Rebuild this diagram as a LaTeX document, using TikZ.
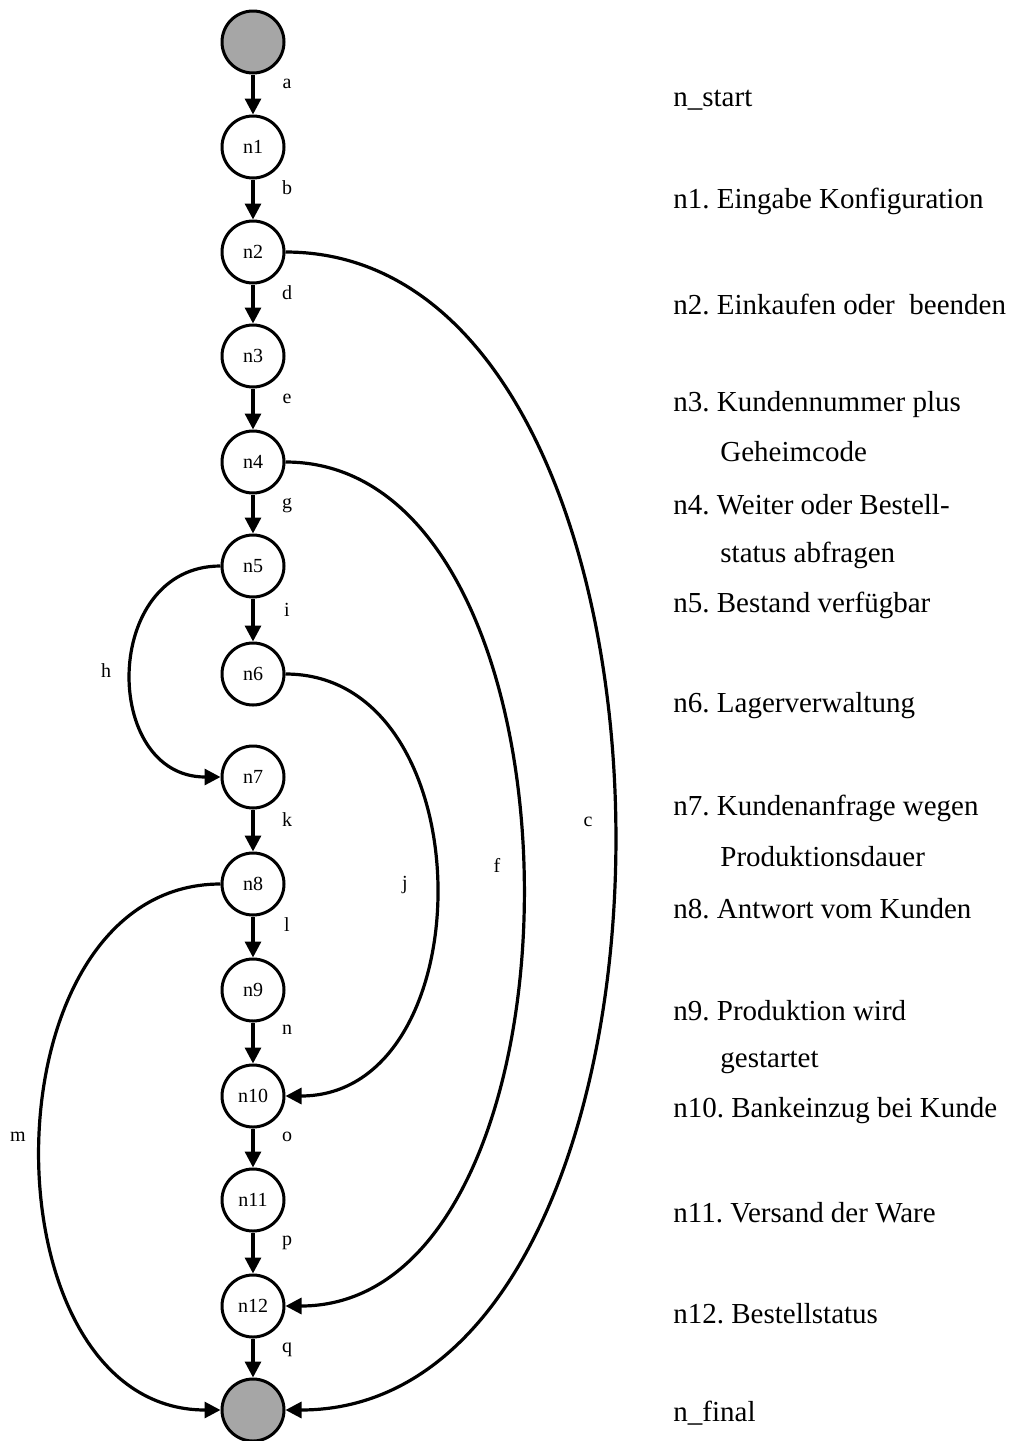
\documentclass[tikz,border=0pt]{standalone}
\usepackage{fontspec}
\setmainfont{Liberation Serif}
\usetikzlibrary{arrows.meta, positioning}
\definecolor{termgray}{RGB}{166,166,166}
\tikzset{>={Triangle[length=8pt,width=8pt]}}
\frenchspacing

\begin{document}
\begin{tikzpicture}[x=0.5pt,y=-0.5pt,
		state/.style={draw,circle,line width=1.5pt,minimum size=31pt,inner sep=0pt,font=\fontsize{10}{11}\selectfont},
		term/.style={state,fill=termgray},
		edge/.style={->,line width=1.6pt},
		lbl/.style={font=\fontsize{10}{11}\selectfont,inner sep=0pt},
		desc/.style={anchor=west,inner sep=0pt,font=\fontsize{14.5}{16}\selectfont}]
		\useasboundingbox (0,0) rectangle (1018,1441);
		
		\node[term] (ns) at (253,42) {};
		\foreach \i/\y in {1/147,2/252,3/356,4/462,5/566,6/674,7/777,8/884,9/990,10/1096,11/1200,12/1306}
			\node[state] (n\i) at (253,\y) {n\i};
		\node[term] (nf) at (253,1410) {};
		
		\draw[edge](ns)  -- (n1);
		\draw[edge](n1)  -- (n2);
		\draw[edge](n2)  -- (n3);
		\draw[edge](n3)  -- (n4);
		\draw[edge](n4)  -- (n5);
		\draw[edge](n5)  -- (n6);
		\draw[edge](n7)  -- (n8);
		\draw[edge](n8)  -- (n9);
		\draw[edge](n9)  -- (n10);
		\draw[edge](n10) -- (n11);
		\draw[edge](n11) -- (n12);
		\draw[edge](n12) -- (nf);
		\draw[edge](n2)  to [out=0,in=0,looseness=0.97] (nf);
		\draw[edge](n4)  to [out=0,in=0,looseness=0.96] (n12);
		\draw[edge](n6)  to [out=0,in=0,looseness=1.22] (n10);
		\draw[edge](n5)  to [out=180,in=180,looseness=1.45] (n7);
		\draw[edge](n8)  to [out=180,in=180,looseness=1.17] (nf);
		
		\node[lbl] (la) at (287,84) {a};
		\node[lbl] (lb) at (287,188) {b};
		\node[lbl] (lc) at (588,822) {c};
		\node[lbl] (ld) at (287,293) {d};
		\node[lbl] (le) at (287,399) {e};
		\node[lbl] (lf) at (497,865) {f};
		\node[lbl] (lg) at (287,506) {g};
		\node[lbl] (lh) at (106,671) {h};
		\node[lbl] (li) at (287,610) {i};
		\node[lbl] (lj) at (405,885) {j};
		\node[lbl] (lk) at (287,820) {k};
		\node[lbl] (ll) at (287,925) {l};
		\node[lbl] (lm) at (18,1137) {m};
		\node[lbl] (ln) at (287,1030) {n};
		\node[lbl] (lo) at (287,1137) {o};
		\node[lbl] (lp) at (287,1243) {p};
		\node[lbl] (lq) at (287,1350) {q};
		
		\node[desc] (ts)  at (673,100)  {n\_start};
		\node[desc] (t1)  at (673,201)  {n1. Eingabe Konfiguration};
		\node[desc] (t2)  at (673,304)  {n2. Einkaufen oder\ \ beenden};
		\node[desc] (t3)  at (673,405)  {n3. Kundennummer plus};
		\node[desc] (t3b) at (720,452)  {Geheimcode};
		\node[desc] (t4)  at (673,505)  {n4. Weiter oder Bestell-};
		\node[desc] (t4b) at (720,555)  {status abfragen};
		\node[desc] (t5)  at (673,605)  {n5. Bestand verfügbar};
		\node[desc] (t6)  at (673,706)  {n6. Lagerverwaltung};
		\node[desc] (t7)  at (673,808)  {n7. Kundenanfrage wegen};
		\node[desc] (t7b) at (720,857)  {Produktionsdauer};
		\node[desc] (t8)  at (673,909)  {n8. Antwort vom Kunden};
		\node[desc] (t9)  at (673,1011) {n9. Produktion wird};
		\node[desc] (t9b) at (720,1062) {gestartet};
		\node[desc] (t10) at (673,1111) {n10. Bankeinzug bei Kunde};
		\node[desc] (t11) at (673,1213) {n11. Versand der Ware};
		\node[desc] (t12) at (673,1314) {n12. Bestellstatus};
		\node[desc] (tf)  at (673,1413) {n\_final};
\end{tikzpicture}
\end{document}
